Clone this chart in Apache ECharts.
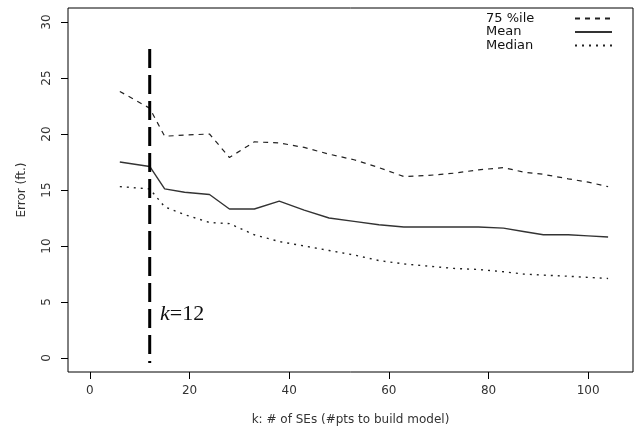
<!DOCTYPE html>
<html lang="en">

<head>
    <meta charset="UTF-8">
    <title>Error vs k</title>
    <style>
        body { margin: 0; background: #fff; }
        #main { margin: 0; }
    </style>
</head>

<body>
    <div id="main" style="width: 639px;height:427px;"></div>
    <script src="https://cdn.jsdelivr.net/npm/echarts@6.0.0/dist/echarts.min.js"></script>
    <script>
        // k values (number of SEs used to build model)
        var kValues = [6, 12, 15, 19, 24, 28, 33, 38, 43, 48, 53, 58, 63, 68, 73, 78, 83, 87, 91, 96, 100, 104];
        var p75 = [23.8, 22.3, 19.8, 19.9, 20.0, 17.9, 19.3, 19.2, 18.8, 18.2, 17.7, 17.0, 16.2, 16.3, 16.5, 16.8, 17.0, 16.6, 16.4, 16.0, 15.7, 15.3];
        var meanErr = [17.5, 17.1, 15.1, 14.8, 14.6, 13.3, 13.3, 14.0, 13.2, 12.5, 12.2, 11.9, 11.7, 11.7, 11.7, 11.7, 11.6, 11.3, 11.0, 11.0, 10.9, 10.8];
        var medianErr = [15.3, 15.1, 13.5, 12.8, 12.1, 12.0, 11.0, 10.4, 10.0, 9.6, 9.2, 8.7, 8.4, 8.2, 8.0, 7.9, 7.7, 7.5, 7.4, 7.3, 7.2, 7.1];
        var xTicks = [0, 20, 40, 60, 80, 100];
        var yTicks = [0, 5, 10, 15, 20, 25, 30];
        var chosenK = 12;
        var chosenLine = [27.6, -0.45];

        function pairs(ys) {
            var out = [];
            for (var i = 0; i < kValues.length; i++) {
                out.push([kValues[i], ys[i]]);
            }
            return out;
        }

        var myChart = echarts.init(document.getElementById('main'));
        var txt = '#333';
        var font = 'DejaVu Sans';

        option = {
            animation: false,
            grid: {
                left: 68,
                right: 6,
                top: 8,
                bottom: 55,
                containLabel: false,
                outerBoundsMode: 'none',
                show: true,
                borderColor: '#000',
                borderWidth: 1
            },
            legend: {
                orient: 'vertical',
                left: 481,
                top: 7,
                align: 'right',
                itemGap: 0.5,
                itemWidth: 37,
                itemHeight: 12,
                itemStyle: { opacity: 0 },
                formatter: '{a|{name}}',
                textStyle: {
                    fontFamily: font, fontSize: 13, color: '#111', lineHeight: 13,
                    rich: { a: { width: 84, align: 'left', lineHeight: 13, fontFamily: font, fontSize: 13, color: '#111' } }
                },
                data: ['75 %ile', 'Mean', 'Median']
            },
            xAxis: {
                type: 'value',
                min: -4.4,
                max: 109,
                name: 'k: # of SEs (#pts to build model)',
                nameLocation: 'middle',
                nameGap: 42,
                nameTextStyle: { fontFamily: font, fontSize: 12, color: txt },
                splitLine: { show: false },
                axisLine: { show: false, onZero: false },
                axisTick: { show: true, length: 7, customValues: xTicks, lineStyle: { color: '#000' } },
                axisLabel: { customValues: xTicks, fontFamily: font, fontSize: 12, color: txt, margin: 13 }
            },
            yAxis: {
                type: 'value',
                min: -1.25,
                max: 31.25,
                name: 'Error (ft.)',
                nameLocation: 'middle',
                nameRotate: 90,
                nameGap: 40,
                nameTextStyle: { fontFamily: font, fontSize: 12, color: txt },
                splitLine: { show: false },
                axisLine: { show: false, onZero: false },
                axisTick: { show: true, length: 7, customValues: yTicks, lineStyle: { color: '#000' } },
                axisLabel: { customValues: yTicks, rotate: 90, fontFamily: font, fontSize: 12, color: txt, margin: 15 }
            },
            series: [{
                name: '75 %ile',
                type: 'line',
                data: pairs(p75),
                symbol: 'none',
                itemStyle: { color: '#222' },
                lineStyle: { color: '#222', width: 1.2, type: [5, 5] }
            }, {
                name: 'Mean',
                type: 'line',
                data: pairs(meanErr),
                symbol: 'none',
                itemStyle: { color: '#333' },
                lineStyle: { color: '#333', width: 1.4, type: 'solid' }
            }, {
                name: 'Median',
                type: 'line',
                data: pairs(medianErr),
                symbol: 'none',
                itemStyle: { color: '#222' },
                lineStyle: { color: '#222', width: 1.4, type: [2, 5] }
            }, {
                name: 'k12',
                type: 'line',
                data: [[chosenK, chosenLine[0]], [chosenK, chosenLine[1]]],
                symbol: 'none',
                silent: true,
                lineStyle: { color: '#000', width: 3, type: [19, 7] },
                label: { show: false }
            }],
            graphic: [{
                type: 'text',
                left: 160,
                top: 303,
                style: {
                    text: '{i|k}=12',
                    rich: {
                        i: { fontStyle: 'italic', fontFamily: 'Liberation Serif', fontSize: 22, fill: '#111' }
                    },
                    fontFamily: 'Liberation Serif',
                    fontSize: 22,
                    fill: '#111'
                }
            }]
        };
        myChart.setOption(option);
    </script>

</body>

</html>
